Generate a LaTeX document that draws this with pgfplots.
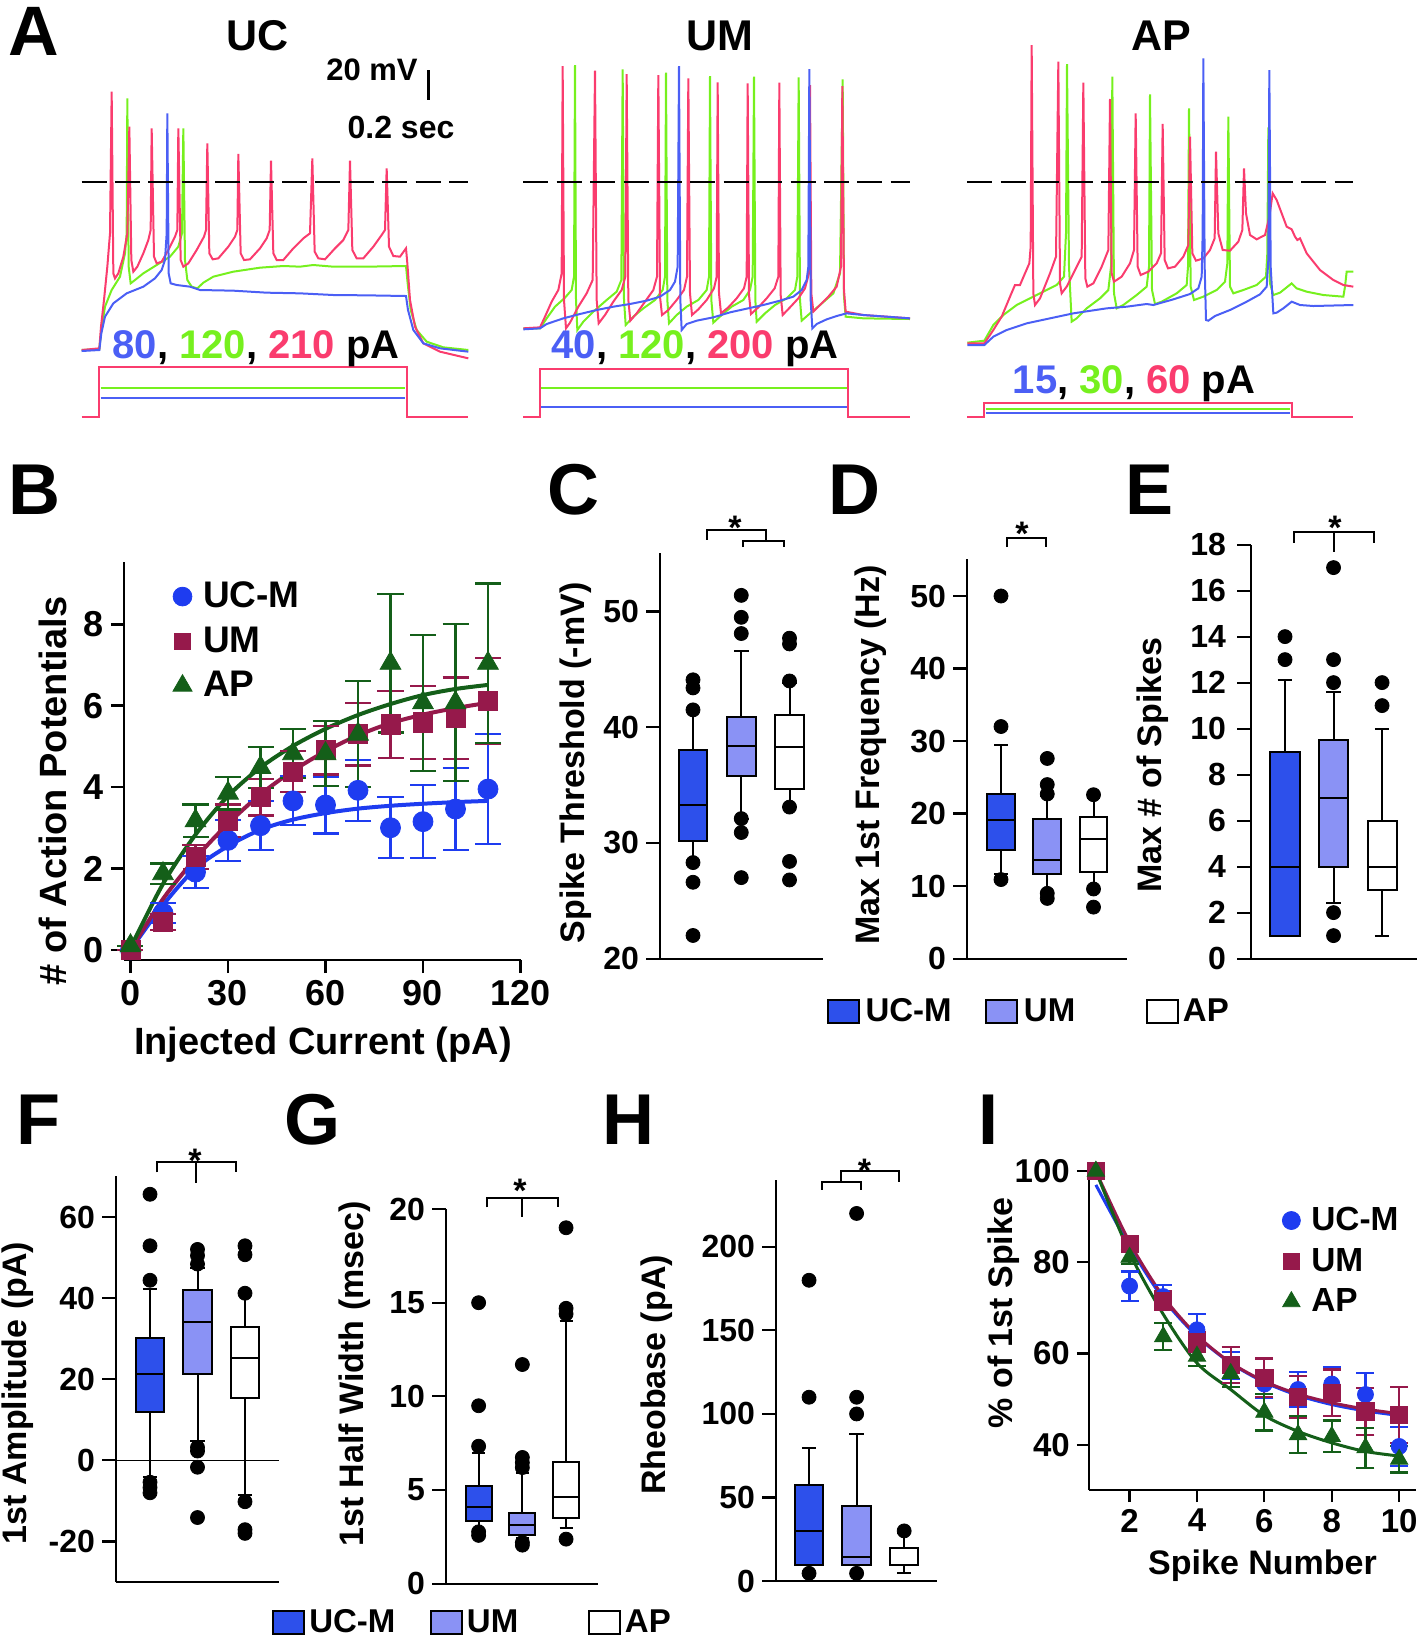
\documentclass[border=0pt]{standalone}
\usepackage{fontspec}
\setmainfont{Liberation Sans}
\usepackage{pgfplots}
\pgfplotsset{compat=1.18}
\usepgfplotslibrary{statistics}

\definecolor{tpink}{RGB}{250,60,110}
\definecolor{tgreen}{RGB}{118,240,30}
\definecolor{tblue}{RGB}{75,95,245}
\definecolor{cucm}{RGB}{30,60,240}
\definecolor{cum}{RGB}{150,25,75}
\definecolor{capg}{RGB}{20,95,25}
\definecolor{bucm}{RGB}{45,80,235}
\definecolor{bum}{RGB}{138,146,245}

\newcommand\fs[1]{\fontsize{#1pt}{#1pt}\selectfont\bfseries}

\pgfplotsset{
  trace/.style={hide axis, scale only axis, clip=false, anchor=north west,
    y dir=reverse, xmin=0, ymin=0, ymax=1290, height=215pt},
  tr/.style={line width=1pt, #1},
  dashline/.style={black, line width=1.1pt, dash pattern=on 12.5pt off 4.2pt},
  spine/.style={scale only axis, clip=false, anchor=south west,
    axis x line*=bottom, axis y line*=left, tick align=outside,
    major tick length=7pt, axis line style={line width=1.1pt},
    tick style={black, line width=1.1pt},
    tick label style={font=\fs{16}},
    /pgf/number format/assume math mode=true},
  boxax/.style={spine, xtick=\empty},
  bx/.style n args={7}{boxplot prepared={draw direction=y, draw position=#1,
      lower whisker=#2, lower quartile=#3, median=#4,
      upper quartile=#5, upper whisker=#6, box extend=0.6, whisker extend=0.3,
      every box/.style={draw=black, fill=#7, line width=1pt},
      every whisker/.style={draw=black, line width=1pt},
      every median/.style={draw=black, line width=1pt}},
    draw=black, mark=*, mark size=3.5pt, mark options={draw=black, fill=black}, forget plot},
  eb/.style={forget plot, only marks, error bars/.cd, y dir=both, y explicit,
    error bar style={line width=1.1pt},
    error mark options={rotate=90, line width=1.1pt, mark size=#1}},
  boxleg/.style={legend columns=3,
    legend style={draw=none, fill=none, font=\fs{16.5}, column sep=0pt, nodes={inner sep=0pt}},
    legend image code/.code={\draw[##1, line width=1pt] (0pt,-5.75pt) rectangle (15.5pt,5.75pt);}},
  markleg/.style={legend cell align=left,
    legend style={draw=none, fill=none, font=\fs{#1}, row sep=5.5pt, column sep=4.5pt, nodes={inner sep=1pt}},
    legend image code/.code={\draw[##1] plot[only marks] coordinates {(0pt,0pt)};}},
}

\begin{document}
\begin{tikzpicture}
\path[use as bounding box] (0pt,0pt) rectangle (709pt,-819.5pt);

% ================= A: UC
\begin{axis}[trace, at={(0pt,0pt)}, width=240pt, xmax=1440]
\addplot[tr=tgreen] coordinates {(245,1050) (298,1047) (304,990) (315,920) (335,870) (360,830) (375,760) (380,700) (382,295) (386,800) (392,850) (405,840) (430,820) (470,795) (510,770) (535,740) (546,700) (550,385) (555,780) (562,840) (575,860) (592,865) (610,848) (640,830) (700,815) (780,803) (850,798) (900,800) (940,795) (1000,800) (1100,800) (1218,798) (1223,850) (1232,930) (1250,990) (1280,1025) (1330,1042) (1405,1050)};
\addplot[tr=tpink] coordinates {(245,1050) (298,1045) (303,980) (312,900) (322,800) (330,700) (335,275) (340,820) (345,835) (355,820) (370,770) (382,700) (388,380) (394,780) (400,815) (412,800) (430,760) (445,720) (452,690) (455,385) (462,770) (470,790) (485,785) (505,750) (525,710) (532,690) (535,385) (542,780) (550,800) (565,790) (590,750) (612,710) (618,690) (622,430) (628,760) (638,778) (655,775) (685,740) (705,710) (712,690) (715,462) (722,760) (732,780) (750,778) (780,745) (800,715) (809,690) (813,482) (820,760) (830,780) (850,780) (880,745) (910,715) (930,700) (937,475) (944,755) (955,775) (975,778) (1005,745) (1030,720) (1045,690) (1050,482) (1057,750) (1070,775) (1090,775) (1120,740) (1145,705) (1155,690) (1160,505) (1167,740) (1180,768) (1200,770) (1218,745) (1222,790) (1230,900) (1245,980) (1270,1030) (1320,1055) (1405,1075)};
\addplot[tr=tblue] coordinates {(245,1053) (298,1050) (304,1000) (315,950) (340,910) (380,880) (430,860) (465,835) (485,810) (495,780) (500,700) (502,340) (506,820) (512,850) (530,855) (570,860) (600,870) (700,872) (800,878) (900,880) (1000,885) (1100,886) (1218,888) (1224,930) (1240,990) (1270,1030) (1320,1045) (1405,1055)};
\addplot[dashline] coordinates {(245,545) (1405,545)};
\addplot[tr=tpink] coordinates {(245,1250) (298,1250) (298,1100) (1220,1100) (1220,1250) (1405,1250)};
\addplot[tr=tgreen] coordinates {(302,1165) (1216,1165)};
\addplot[tr=tblue] coordinates {(302,1193) (1216,1193)};
\end{axis}

% ================= A: UM
\begin{axis}[trace, at={(240pt,0pt)}, width=235pt, xmax=1410]
\addplot[tr=tgreen] coordinates {(130,985) (180,985) (200,955) (225,920) (255,893) (275,870) (282,830) (285,195) (288,900) (292,990) (310,965) (340,935) (380,900) (410,875) (424,840) (428,208) (432,900) (437,975) (460,950) (490,925) (525,900) (548,870) (555,830) (558,218) (562,900) (567,970) (590,945) (620,920) (655,900) (680,870) (687,830) (690,228) (694,900) (700,968) (725,945) (755,920) (790,900) (810,870) (818,830) (822,230) (826,900) (830,965) (855,940) (885,915) (920,895) (945,870) (952,830) (956,232) (960,900) (965,962) (990,940) (1020,915) (1060,880) (1080,820) (1088,238) (1092,890) (1097,950) (1150,955) (1290,957)};
\addplot[tr=tpink] coordinates {(130,985) (180,982) (195,950) (215,905) (235,870) (245,820) (248,198) (252,900) (258,985) (270,968) (295,920) (320,880) (338,840) (345,212) (350,900) (356,970) (375,945) (400,905) (425,870) (436,830) (440,222) (445,900) (451,962) (470,940) (495,905) (520,870) (531,830) (535,225) (540,890) (546,945) (565,930) (590,900) (612,870) (621,830) (625,235) (630,880) (636,945) (655,928) (680,900) (702,865) (710,830) (713,247) (717,880) (723,940) (745,922) (770,895) (792,865) (800,830) (803,250) (807,885) (813,942) (835,922) (860,895) (884,865) (895,830) (898,248) (902,885) (908,945) (930,922) (955,895) (975,865) (987,820) (990,255) (994,880) (1000,935) (1020,915) (1045,890) (1070,860) (1083,800) (1087,258) (1092,870) (1097,935) (1150,945) (1290,955)};
\addplot[tr=tblue] coordinates {(130,988) (180,985) (200,972) (250,955) (300,942) (350,930) (400,920) (450,912) (500,902) (540,890) (570,870) (585,845) (593,800) (597,198) (601,900) (605,990) (620,972) (650,962) (700,952) (750,937) (800,926) (850,915) (900,902) (940,890) (965,870) (980,840) (985,800) (988,207) (992,900) (997,985) (1010,972) (1040,958) (1070,948) (1100,940) (1150,945) (1290,955)};
\addplot[dashline] coordinates {(130,545) (1290,545)};
\addplot[tr=tpink] coordinates {(130,1250) (180,1250) (180,1107) (1105,1107) (1105,1250) (1290,1250)};
\addplot[tr=tgreen] coordinates {(184,1165) (1101,1165)};
\addplot[tr=tblue] coordinates {(184,1222) (1101,1222)};
\end{axis}

% ================= A: AP
\begin{axis}[trace, at={(470pt,0pt)}, width=239pt, xmax=1434]
\addplot[tr=tgreen] coordinates {(82,1028) (133,1022) (160,975) (190,945) (230,915) (300,880) (350,855) (372,830) (378,700) (381,192) (387,800) (395,965) (410,955) (440,925) (480,895) (505,870) (513,800) (517,230) (522,880) (530,925) (550,915) (590,885) (620,860) (627,800) (630,283) (636,870) (645,912) (665,905) (710,880) (740,855) (744,800) (747,325) (752,860) (762,900) (790,890) (830,870) (855,845) (862,790) (865,350) (870,860) (880,880) (910,870) (950,855) (978,830) (982,760) (985,382) (990,850) (1000,885) (1020,878) (1055,850) (1070,865) (1100,875) (1150,885) (1210,890) (1215,860) (1220,815) (1240,815)};
\addplot[tr=tpink] coordinates {(82,1030) (133,1030) (160,990) (185,950) (210,890) (225,855) (240,855) (255,820) (268,790) (272,740) (275,135) (280,880) (285,915) (300,895) (330,820) (348,770) (355,185) (360,850) (365,880) (380,860) (405,810) (425,770) (430,248) (436,835) (442,860) (460,850) (485,800) (505,750) (510,297) (515,820) (522,845) (545,830) (570,790) (582,750) (587,340) (593,800) (602,825) (625,815) (650,790) (663,760) (668,372) (674,780) (684,805) (705,800) (730,770) (745,735) (750,410) (757,760) (768,782) (790,775) (810,750) (824,715) (828,455) (835,700) (848,750) (870,752) (895,725) (907,690) (912,505) (918,640) (930,705) (950,718) (975,705) (988,650) (998,580) (1010,600) (1025,640) (1040,680) (1055,688) (1065,710) (1072,720) (1080,715) (1100,760) (1140,810) (1180,840) (1210,855) (1240,860)};
\addplot[tr=tblue] coordinates {(82,1035) (133,1035) (160,1010) (200,990) (260,970) (330,955) (400,940) (500,925) (560,920) (620,912) (640,915) (700,898) (750,882) (775,865) (785,830) (788,700) (790,175) (794,800) (798,960) (805,962) (825,948) (870,930) (920,905) (960,883) (980,860) (985,780) (988,210) (992,800) (1000,940) (1010,938) (1030,925) (1055,905) (1080,915) (1120,918) (1240,915)};
\addplot[dashline] coordinates {(82,545) (1240,545)};
\addplot[tr=tpink] coordinates {(82,1250) (133,1250) (133,1208) (1055,1208) (1055,1250) (1240,1250)};
\addplot[tr=tgreen] coordinates {(137,1228) (1051,1228)};
\addplot[tr=tblue] coordinates {(137,1240) (1051,1240)};
\end{axis}

% ================= B
\begin{axis}[spine, at={(62pt,-480pt)}, width=198.25pt, height=199pt,
  xmin=-2, xmax=120, ymin=-0.25, ymax=9.53,
  xtick={0,30,60,90,120}, ytick={0,2,4,6,8},
  major tick length=6.5pt, axis line style={line width=1.3pt}, tick style={black, line width=1.3pt},
  tick label style={font=\fs{18}},
  markleg=18.5, legend style={at={(0.1074,0.8015)}, anchor=west, row sep=6pt}]
\addplot[cucm, line width=2pt, smooth, forget plot] coordinates {(0,0) (10,1.1) (20,2.0) (30,2.55) (40,2.95) (50,3.2) (60,3.36) (70,3.47) (80,3.54) (90,3.59) (100,3.63) (110,3.66)};
\addplot[cum, line width=2pt, smooth, forget plot] coordinates {(0,0) (10,1.25) (20,2.25) (30,3.1) (40,3.82) (50,4.4) (60,4.88) (70,5.27) (80,5.57) (90,5.78) (100,5.94) (110,6.07)};
\addplot[capg, line width=2pt, smooth, forget plot] coordinates {(0,0.05) (10,1.62) (20,2.83) (30,3.78) (40,4.48) (50,5.01) (60,5.43) (70,5.77) (80,6.04) (90,6.26) (100,6.41) (110,6.51)};
\addplot[cucm, mark=*, mark size=5pt, eb=6.5pt] coordinates {(0,0) +- (0,0) (10,0.9) +- (0,0.25) (20,1.91) +- (0,0.4) (30,2.69) +- (0,0.5) (40,3.05) +- (0,0.6) (50,3.66) +- (0,0.6) (60,3.56) +- (0,0.7) (70,3.92) +- (0,0.75) (80,3.0) +- (0,0.75) (90,3.15) +- (0,0.9) (100,3.46) +- (0,1.0) (110,3.95) +- (0,1.35)};
\addplot[cum, mark=square*, mark size=4.8pt, eb=6.5pt] coordinates {(0,0) +- (0,0) (10,0.69) +- (0,0.2) (20,2.28) +- (0,0.3) (30,3.17) +- (0,0.4) (40,3.75) +- (0,0.45) (50,4.38) +- (0,0.5) (60,4.91) +- (0,0.6) (70,5.3) +- (0,0.77) (80,5.54) +- (0,0.82) (90,5.59) +- (0,0.9) (100,5.69) +- (0,1.0) (110,6.12) +- (0,1.05)};
\addplot[capg, mark=triangle*, mark size=6pt, eb=6.5pt] coordinates {(0,0.1) +- (0,0) (10,1.87) +- (0,0.25) (20,3.17) +- (0,0.4) (30,3.85) +- (0,0.4) (40,4.48) +- (0,0.5) (50,4.82) +- (0,0.6) (60,4.82) +- (0,0.8) (70,5.3) +- (0,1.3) (80,7.04) +- (0,1.7) (90,6.07) +- (0,1.67) (100,6.07) +- (0,1.93) (110,7.04) +- (0,1.96)};
\addlegendimage{only marks, mark=*, cucm, mark size=4.7pt}
\addlegendentry{UC-M}
\addlegendimage{only marks, mark=square*, cum, mark size=4pt}
\addlegendentry{UM}
\addlegendimage{only marks, mark=triangle*, capg, mark size=5.5pt}
\addlegendentry{AP}
\end{axis}

% ================= C
\begin{axis}[boxax, at={(330pt,-479.3pt)}, width=81.5pt, height=202.8pt,
  xmin=0.316, xmax=3.694, ymin=20, ymax=55.06, ytick={20,30,40,50}]
\addplot[bx={1}{28.3}{30.2}{33.25}{38.0}{41.5}{bucm}] table[row sep=\\, y index=0] {d\\44.1\\43.4\\41.5\\28.3\\26.6\\22.0\\};
\addplot[bx={2}{32.1}{35.8}{38.4}{40.9}{46.6}{bum}] table[row sep=\\, y index=0] {d\\51.4\\49.5\\48.1\\32.1\\30.9\\27.0\\};
\addplot[bx={3}{33.1}{34.7}{38.3}{41.1}{43.8}{white}] table[row sep=\\, y index=0] {d\\47.7\\47.2\\44.0\\33.1\\28.4\\26.8\\};
\end{axis}

% ================= D
\begin{axis}[boxax, at={(483.5pt,-479.3pt)}, width=80pt, height=199.8pt,
  xmin=0.265, xmax=3.724, ymin=0, ymax=55.1, ytick={0,10,20,30,40,50},
  boxleg, legend style={at={(-0.918,-0.1326)}, anchor=west}]
\addplot[bx={1}{11.6}{15.0}{19.1}{22.7}{29.5}{bucm}] table[row sep=\\, y index=0] {d\\50.0\\32.0\\10.9\\};
\addplot[bx={2}{9.1}{11.6}{13.6}{19.3}{22.4}{bum}] table[row sep=\\, y index=0] {d\\27.6\\24.0\\22.7\\9.0\\8.3\\};
\addplot[bx={3}{10.0}{12.0}{16.5}{19.5}{22.2}{white}] table[row sep=\\, y index=0] {d\\22.6\\9.6\\7.1\\};
\addlegendimage{draw=black, fill=bucm}
\addlegendentry{\hspace{3pt}\makebox[59.7pt][l]{UC-M}}
\addlegendimage{draw=black, fill=bum}
\addlegendentry{\hspace{3pt}\makebox[61pt][l]{UM}}
\addlegendimage{draw=black, fill=white}
\addlegendentry{\hspace{2pt}AP}
\end{axis}

% ================= E
\begin{axis}[boxax, at={(625.5pt,-479.3pt)}, width=83pt, height=207pt,
  xmin=0.299, xmax=3.72, ymin=0, ymax=18, ytick={0,2,...,18},
  yticklabel style={xshift=-2pt}]
\addplot[bx={1}{1.0}{1.0}{4.0}{9.0}{12.1}{bucm}] table[row sep=\\, y index=0] {d\\14\\13\\};
\addplot[bx={2}{2.4}{4.0}{7.0}{9.5}{11.6}{bum}] table[row sep=\\, y index=0] {d\\17\\13\\12\\2\\1\\};
\addplot[bx={3}{1.0}{3.0}{4.0}{6.0}{10.0}{white}] table[row sep=\\, y index=0] {d\\12\\11\\};
\end{axis}

% ================= F
\begin{axis}[boxax, at={(58pt,-791pt)}, width=81.5pt, height=203pt,
  xmin=0.284, xmax=3.716, ymin=-30, ymax=70.1, ytick={-20,0,20,40,60}]
\draw[line width=0.7pt] (axis cs:0.284,0) -- (axis cs:3.716,0);
\addplot[bx={1}{-4.1}{11.8}{21.3}{30.2}{42.3}{bucm}] table[row sep=\\, y index=0] {d\\65.6\\52.9\\44.4\\-5.4\\-6.7\\-8.0\\};
\addplot[bx={2}{4.75}{21.2}{34.1}{42.1}{47.5}{bum}] table[row sep=\\, y index=0] {d\\52.0\\50.5\\48.4\\3.2\\2.3\\-1.7\\-14.1\\};
\addplot[bx={3}{-8.5}{15.3}{25.2}{33.0}{41.2}{white}] table[row sep=\\, y index=0] {d\\52.9\\50.7\\41.2\\-10.2\\-17.1\\-18.0\\};
\end{axis}

% ================= G
\begin{axis}[boxax, at={(223pt,-791.85pt)}, width=76pt, height=187.35pt,
  xmin=0.254, xmax=3.73, ymin=0, ymax=20, ytick={0,5,10,15,20},
  boxleg, legend style={at={(-1.185,-0.104)}, anchor=west}]
\addplot[bx={1}{2.77}{3.37}{4.12}{5.2}{7.0}{bucm}] table[row sep=\\, y index=0] {d\\15.0\\9.5\\7.34\\2.77\\2.58\\};
\addplot[bx={2}{2.43}{2.58}{3.13}{3.78}{5.9}{bum}] table[row sep=\\, y index=0] {d\\11.7\\6.74\\6.46\\6.2\\2.2\\2.06\\};
\addplot[bx={3}{3.0}{3.52}{4.63}{6.5}{14.0}{white}] table[row sep=\\, y index=0] {d\\19.0\\14.7\\14.4\\2.38\\};
\addlegendimage{draw=black, fill=bucm}
\addlegendentry{\hspace{2pt}\makebox[60.35pt][l]{UC-M}}
\addlegendimage{draw=black, fill=bum}
\addlegendentry{\hspace{2pt}\makebox[60.5pt][l]{UM}}
\addlegendimage{draw=black, fill=white}
\addlegendentry{\hspace{2pt}AP}
\end{axis}

% ================= H
\begin{axis}[boxax, at={(388pt,-790.5pt)}, width=80.25pt, height=200.5pt,
  xmin=0.305, xmax=3.68, ymin=0, ymax=240, ytick={0,50,100,150,200}]
\addplot[bx={1}{9.4}{9.4}{29.8}{57.4}{79.7}{bucm}] table[row sep=\\, y index=0] {d\\180\\110\\4.6\\};
\addplot[bx={2}{9.4}{9.4}{14.5}{44.9}{87.8}{bum}] table[row sep=\\, y index=0] {d\\220\\110\\100\\4.6\\};
\addplot[bx={3}{4.6}{9.4}{9.4}{19.9}{29}{white}] table[row sep=\\, y index=0] {d\\30\\};
\end{axis}

% ================= I
\begin{axis}[spine, at={(544.4pt,-745.1pt)}, width=163.6pt, height=164.2pt,
  xmin=0.79, xmax=10.5, ymin=30, ymax=102.06,
  xtick={2,4,6,8,10}, ytick={40,60,80,100}, major tick length=6pt,
  tick label style={font=\fs{16.5}},
  markleg=16.7, legend style={at={(0.572,0.698)}, anchor=west, row sep=5.25pt}]
\addplot[cucm, line width=1.5pt, smooth, forget plot] coordinates {(1,97) (2,83.5) (3,72.0) (4,63.8) (5,57.9) (6,53.7) (7,50.8) (8,48.8) (9,47.4) (10,46.4)};
\addplot[cum, line width=1.5pt, smooth, forget plot] coordinates {(1,100) (2,84.4) (3,72.5) (4,64.0) (5,58.0) (6,53.9) (7,51.1) (8,49.2) (9,47.8) (10,46.8)};
\addplot[capg, line width=1.5pt, smooth, forget plot] coordinates {(1,100) (2,82.1) (3,68.6) (4,57.9) (5,52.1) (6,46.4) (7,42.9) (8,40.4) (9,38.5) (10,37.5)};
\addplot[cucm, mark=*, mark size=4pt, eb=4.5pt] coordinates {(1,100) +- (0,0) (2,74.8) +- (0,3.2) (3,72.5) +- (0,2.5) (4,65.2) +- (0,3.4) (5,57.4) +- (0,3.0) (6,53.3) +- (0,3.0) (7,52.1) +- (0,3.9) (8,53.3) +- (0,3.8) (9,51.0) +- (0,4.7) (10,39.6) +- (0,4.2)};
\addplot[cum, mark=square*, mark size=4.3pt, eb=4.5pt] coordinates {(1,100) +- (0,0) (2,84.0) +- (0,1.0) (3,71.6) +- (0,2.0) (4,62.5) +- (0,2.2) (5,57.5) +- (0,3.9) (6,54.7) +- (0,4.2) (7,50.4) +- (0,4.6) (8,51.4) +- (0,5.1) (9,47.3) +- (0,5.2) (10,46.5) +- (0,6.2)};
\addplot[capg, mark=triangle*, mark size=5pt, eb=4.5pt] coordinates {(1,100) +- (0,0) (2,81.1) +- (0,1.5) (3,63.7) +- (0,3.0) (4,59.4) +- (0,2.2) (5,55.6) +- (0,3.0) (6,47.1) +- (0,4.0) (7,42.2) +- (0,4.0) (8,41.8) +- (0,3.5) (9,39.3) +- (0,4.4) (10,36.8) +- (0,2.9)};
\addlegendimage{only marks, mark=*, cucm, mark size=4.5pt}
\addlegendentry{UC-M}
\addlegendimage{only marks, mark=square*, cum, mark size=4pt}
\addlegendentry{UM}
\addlegendimage{only marks, mark=triangle*, capg, mark size=5pt}
\addlegendentry{AP}
\end{axis}

% ================= annotations (pixel coordinates)
\begin{scope}[x=0.5pt, y=-0.5pt, every node/.style={inner sep=0pt}]
\node[font=\fs{35}] at (33.5,31) {A};
\node[font=\fs{21.5}] at (258,36) {UC};
\node[font=\fs{21.5}] at (720,36) {UM};
\node[font=\fs{21.5}] at (1161,36) {AP};
\node[font=\fs{15.5}] at (372,70) {20 mV};
\draw[line width=1.5pt] (428,70) -- (428,100);
\node[font=\fs{16}] at (401,127.5) {0.2 sec};
\node[font=\fs{20}, anchor=base] at (256,358) {{\color{tblue}80}, {\color{tgreen}120}, {\color{tpink}210} pA};
\node[font=\fs{20}, anchor=base] at (695,358) {{\color{tblue}40}, {\color{tgreen}120}, {\color{tpink}200} pA};
\node[font=\fs{20}, anchor=base] at (1134,393) {{\color{tblue}15}, {\color{tgreen}30}, {\color{tpink}60} pA};

\node[font=\fs{36}] at (34,489.5) {B};
\node[font=\fs{36}] at (573,490) {C};
\node[font=\fs{36}] at (854.5,490) {D};
\node[font=\fs{36}] at (1149.5,490) {E};
\node[font=\fs{36}] at (38,1119.5) {F};
\node[font=\fs{36}] at (312,1119.5) {G};
\node[font=\fs{36}] at (628,1119.5) {H};
\node[font=\fs{36}] at (988,1119.5) {I};

\node[font=\fs{19}, rotate=90] at (53,791) {\# of Action Potentials};
\node[font=\fs{19}] at (323,1045) {Injected Current (pA)};
\node[font=\fs{17}, rotate=90] at (576,763) {Spike Threshold (-mV)};
\node[font=\fs{17}, rotate=90] at (871,755) {Max 1st Frequency (Hz)};
\node[font=\fs{17}, rotate=90] at (1152.5,765) {Max \# of Spikes};
\node[font=\fs{17}, rotate=90] at (18,1393) {1st Amplitude (pA)};
\node[font=\fs{17}, rotate=90] at (355,1374) {1st Half Width (msec)};
\node[font=\fs{17}, rotate=90] at (657,1375) {Rheobase (pA)};
\node[font=\fs{17}, rotate=90] at (1004,1313) {\% of 1st Spike};
\node[font=\fs{17}] at (1262.5,1566) {Spike Number};

% significance brackets
\begin{scope}[line width=1pt]
\draw (707,539.5) -- (707,530) -- (766,530) -- (766,541);
\draw (743,547) -- (743,541) -- (784,541) -- (784,547);
\draw (1007,547) -- (1007,537.6) -- (1046,537.6) -- (1046,547);
\draw (1294,542.6) -- (1294,532) -- (1374,532) -- (1374,542.6);
\draw (1334,532) -- (1334,551.7);
\draw (157,1172.3) -- (157,1161.8) -- (236,1161.8) -- (236,1172.3);
\draw (196.4,1161.8) -- (196.4,1182.8);
\draw (486.6,1207.3) -- (486.6,1197.8) -- (558,1197.8) -- (558,1207.3);
\draw (522.3,1197.8) -- (522.3,1216.8);
\draw (821.7,1189.8) -- (821.7,1181.7) -- (860.8,1181.7) -- (860.8,1189.8);
\draw (841,1181.7) -- (841,1171.2) -- (899,1171.2) -- (899,1181.7);
\end{scope}
\node[font=\fs{17}, anchor=base] at (735,539) {*};
\node[font=\fs{17}, anchor=base] at (1022,545) {*};
\node[font=\fs{17}, anchor=base] at (1335,539) {*};
\node[font=\fs{17}, anchor=base] at (195,1172) {*};
\node[font=\fs{17}, anchor=base] at (520,1202) {*};
\node[font=\fs{17}, anchor=base] at (864.5,1182.5) {*};
\end{scope}
\end{tikzpicture}
\end{document}
